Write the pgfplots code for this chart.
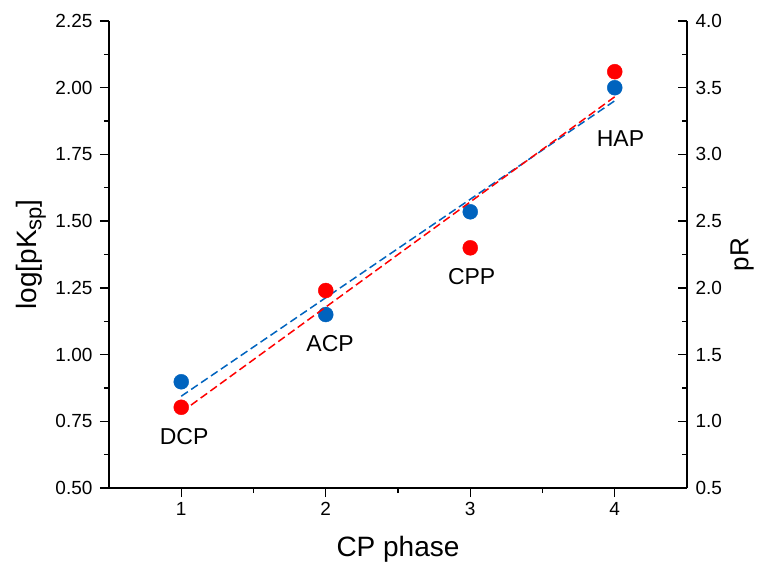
\documentclass[border=0pt]{standalone}
\usepackage{fontspec}
\setmainfont{Liberation Sans}
\usepackage{pgfplots}
\pgfplotsset{compat=1.18}
\definecolor{myblue}{RGB}{0,99,190}
\definecolor{myred}{RGB}{255,0,0}
\begin{document}
\begin{tikzpicture}
\useasboundingbox (-109pt,-84pt) rectangle (656pt,488pt);
\pgfplotsset{
  common/.style={
    at={(0,0)}, anchor=south west,
    scale only axis, width=578pt, height=467pt,
    xmin=0.5, xmax=4.5,
    /pgf/number format/assume math mode=true,
    ticklabel style={font=\fontsize{19}{22}\selectfont},
    axis line style={line width=1.5pt, black},
    tick style={line width=1.3pt, black},
    major tick length=9pt, minor tick length=5pt,
    clip=false,
  }
}
\begin{axis}[common,
  ymin=0.5, ymax=2.25,
  axis x line*=bottom, axis y line*=left,
  tick align=outside,
  xtick={1,2,3,4}, minor x tick num=1,
  ytick={0.5,0.75,1.0,1.25,1.5,1.75,2.0,2.25}, minor y tick num=1,
  yticklabel style={xshift=-4pt, /pgf/number format/.cd, fixed, fixed zerofill, precision=2},
  xticklabel style={yshift=-2pt},
  xlabel={CP phase},
  ylabel={log[pK\raisebox{-0.35ex}{\fontsize{22}{22}\selectfont sp}]},
  every axis x label/.style={at={(axis description cs:0.5,0)}, yshift=-68pt, anchor=base, font=\fontsize{28}{32}\selectfont},
  every axis y label/.style={at={(axis description cs:0,0.5)}, xshift=-78pt, rotate=90, anchor=center, font=\fontsize{28}{32}\selectfont},
]
\addplot[color=myblue, line width=1.5pt, dash pattern=on 8pt off 4pt] coordinates {(1,0.844) (4,1.951)};
\addplot[color=myblue, only marks, mark=*, mark size=7.5pt, mark options={draw=none, fill=myblue}] coordinates {(1,0.898) (2,1.150) (3,1.535) (4,2.000)};
\node[font=\fontsize{23}{26}\selectfont] at (axis cs:1.02,0.692) {DCP};
\node[font=\fontsize{23}{26}\selectfont] at (axis cs:2.03,1.043) {ACP};
\node[font=\fontsize{23}{26}\selectfont] at (axis cs:3.01,1.294) {CPP};
\node[font=\fontsize{23}{26}\selectfont] at (axis cs:4.04,1.81) {HAP};
\end{axis}
\begin{axis}[common,
  ymin=0.5, ymax=4.0,
  axis x line=none, axis y line*=right,
  tick align=inside,
  ytick={0.5,1.0,1.5,2.0,2.5,3.0,3.5,4.0}, minor y tick num=1,
  yticklabel style={xshift=5pt, /pgf/number format/.cd, fixed, fixed zerofill, precision=1},
  ylabel={pR},
  every axis y label/.style={at={(axis description cs:1,0.5)}, xshift=55pt, rotate=90, anchor=center, font=\fontsize{26}{30}\selectfont},
]
\addplot[color=myred, line width=1.5pt, dash pattern=on 8pt off 4pt] coordinates {(1,1.068) (4,3.432)};
\addplot[color=myred, only marks, mark=*, mark size=7.5pt, mark options={draw=none, fill=myred}] coordinates {(1,1.105) (2,1.98) (3,2.30) (4,3.62)};
\end{axis}
\end{tikzpicture}
\end{document}
